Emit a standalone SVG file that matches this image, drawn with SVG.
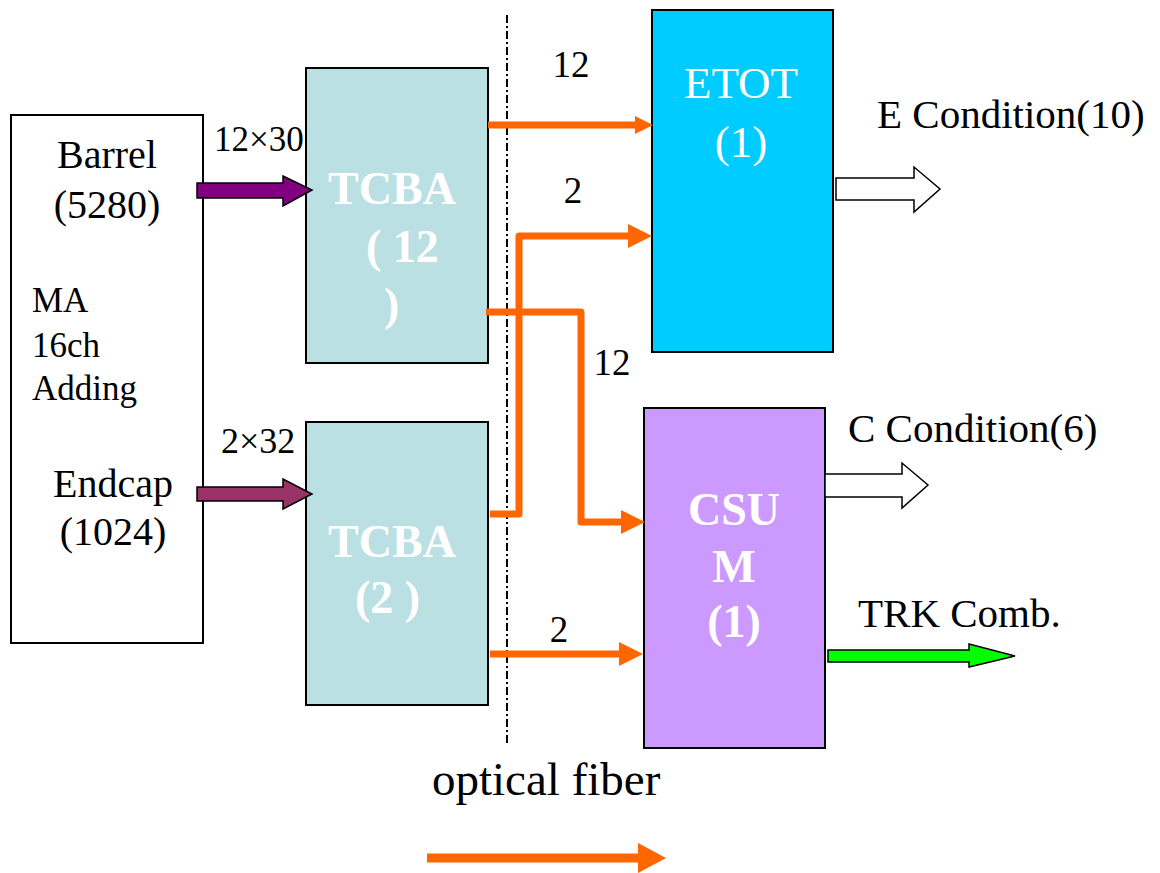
<svg xmlns="http://www.w3.org/2000/svg" width="1160" height="873" viewBox="0 0 1160 873">
<style>
.box{stroke:#000;stroke-width:2}
.t{font-family:"Liberation Serif","Times New Roman",serif;fill:#000}
.w{font-family:"Liberation Serif","Times New Roman",serif;fill:#fff}
.b{font-weight:bold}
.fiber{fill:none;stroke:#FF6600;stroke-width:7;stroke-linejoin:round}
.blk{stroke:#000;stroke-width:1.5;stroke-linejoin:miter}
</style>
<defs>
<marker id="hs" markerUnits="userSpaceOnUse" viewBox="0 0 18 18" markerWidth="18" markerHeight="18" refX="0" refY="9" orient="auto"><path d="M0,0 L18,9 L0,18 z" fill="#FF6600"/></marker>
<marker id="hl" markerUnits="userSpaceOnUse" viewBox="0 0 24 24" markerWidth="24" markerHeight="24" refX="0" refY="12" orient="auto"><path d="M0,0 L24,12 L0,24 z" fill="#FF6600"/></marker>
<marker id="hx" markerUnits="userSpaceOnUse" viewBox="0 0 28 30" markerWidth="28" markerHeight="30" refX="0" refY="15" orient="auto"><path d="M0,0 L28,15 L0,30 z" fill="#FF6600"/></marker>
</defs>
<rect width="1160" height="873" fill="#fff"/>

<g id="source">
<rect class="box" x="11" y="115" width="192" height="528" fill="#fff"/>
<text class="t" x="107" y="168" font-size="40" text-anchor="middle">Barrel</text>
<text class="t" x="107" y="218" font-size="40" text-anchor="middle">(5280)</text>
<text class="t" x="32" y="312" font-size="35">MA</text>
<text class="t" x="32" y="357" font-size="35">16ch</text>
<text class="t" x="32" y="400" font-size="35">Adding</text>
<text class="t" x="113" y="497" font-size="40" text-anchor="middle">Endcap</text>
<text class="t" x="113" y="545" font-size="40" text-anchor="middle">(1024)</text>
</g>

<g id="tcba12">
<rect class="box" x="306" y="68" width="182" height="295" fill="#BBE0E3"/>
<text class="w b" x="392" y="204" font-size="46" text-anchor="middle">TCBA</text>
<text class="w b" x="366" y="262" font-size="46">( 12</text>
<text class="w b" x="384" y="320" font-size="46">)</text>
</g>

<g id="tcba2">
<rect class="box" x="306" y="422" width="182" height="283" fill="#BBE0E3"/>
<text class="w b" x="392" y="557" font-size="46" text-anchor="middle">TCBA</text>
<text class="w b" x="355" y="613" font-size="46">(2 )</text>
</g>

<g id="etot">
<rect class="box" x="652" y="10" width="181" height="342" fill="#00CCFF"/>
<text class="w" x="741" y="98" font-size="45" text-anchor="middle">ETOT</text>
<text class="w" x="741" y="157" font-size="45" text-anchor="middle">(1)</text>
</g>

<g id="csum">
<rect class="box" x="644" y="408" width="181" height="340" fill="#CC99FF"/>
<text class="w b" x="734" y="525" font-size="46" text-anchor="middle">CSU</text>
<text class="w b" x="734" y="582" font-size="46" text-anchor="middle">M</text>
<text class="w b" x="734" y="637" font-size="46" text-anchor="middle">(1)</text>
</g>

<g id="divider">
<line x1="507" y1="15" x2="507" y2="745" stroke="#000" stroke-width="2" stroke-dasharray="8 3 2 3"/>
</g>

<g id="connectors">
<polygon class="blk" fill="#800080" points="197,183 283,183 283,176 312,190 283,206 283,198 197,198"/>
<polygon class="blk" fill="#993366" points="197,487 283,487 283,479 312,494 283,509 283,501 197,501"/>
<polyline class="fiber" points="488,125 635,125" marker-end="url(#hs)"/>
<polyline class="fiber" points="490,514 519,514 519,236 628,236" marker-end="url(#hl)"/>
<polyline class="fiber" points="486,312 581,312 581,522 621,522" marker-end="url(#hl)"/>
<polyline class="fiber" points="490,654 619,654" marker-end="url(#hl)"/>
<polygon class="blk" fill="#fff" points="836,178 914,178 914,167 940,189 914,212 914,200 836,200"/>
<polygon class="blk" fill="#fff" points="825,474 902,474 902,463 928,485 902,508 902,497 825,497"/>
<polygon class="blk" fill="#00FF00" points="828,650 969,650 969,644 1015,656 969,667 969,662 828,662"/>
<polyline class="fiber" style="stroke-width:9" points="427,858 638,858" marker-end="url(#hx)"/>
</g>

<g id="labels">
<text class="t" x="214" y="151" font-size="35">12×30</text>
<text class="t" x="221" y="453" font-size="36">2×32</text>
<text class="t" x="571" y="77" font-size="37" text-anchor="middle">12</text>
<text class="t" x="573" y="203" font-size="37" text-anchor="middle">2</text>
<text class="t" x="612" y="375" font-size="37" text-anchor="middle">12</text>
<text class="t" x="559" y="642" font-size="37" text-anchor="middle">2</text>
<text class="t" x="877" y="128" font-size="41">E Condition(10)</text>
<text class="t" x="848" y="442" font-size="41">C Condition(6)</text>
<text class="t" x="858" y="627" font-size="41">TRK Comb.</text>
<text class="t" x="432" y="795" font-size="47">optical fiber</text>
</g>
</svg>
